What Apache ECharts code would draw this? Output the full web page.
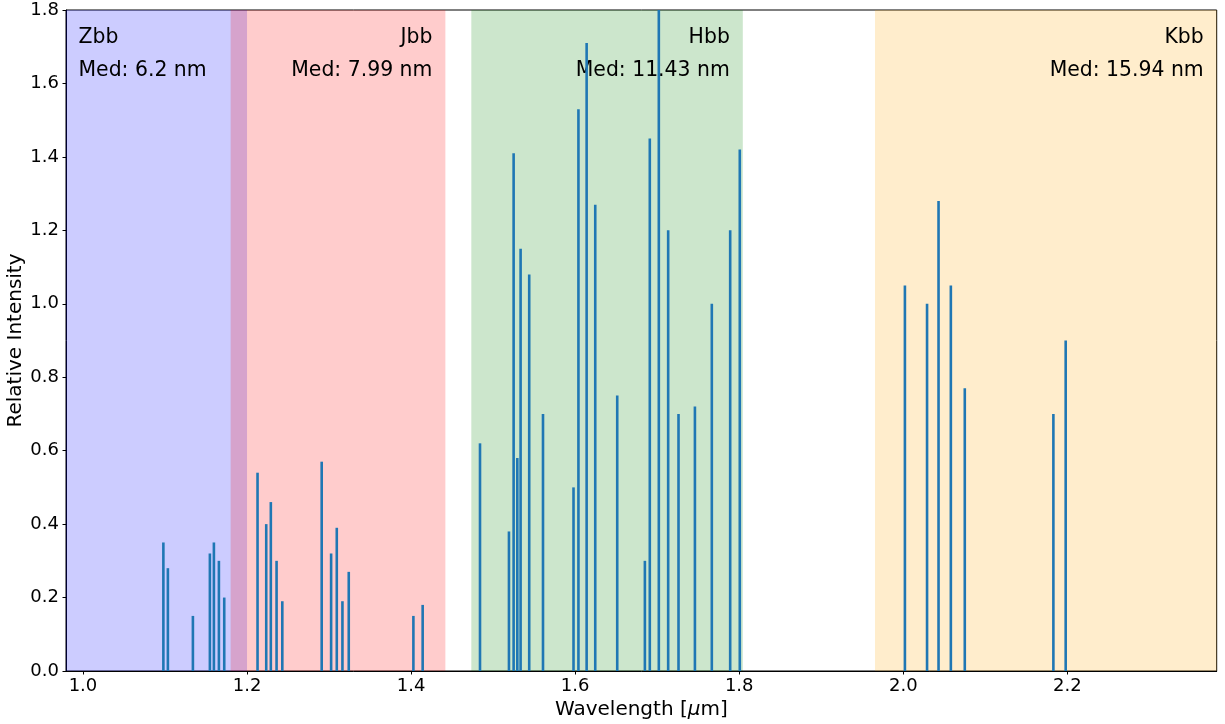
<!DOCTYPE html>
<html>
<head>
<meta charset="utf-8">
<script src="https://cdn.jsdelivr.net/npm/echarts@6/dist/echarts.min.js"></script>
<style>html,body{margin:0;padding:0;background:#fff}#c{width:1225px;height:724px}</style>
</head>
<body>
<div id="c"></div>
<script>
// Emission line wavelengths (micron) and relative intensities
const wavelengths = [1.098, 1.1035, 1.134, 1.1547, 1.1596, 1.1657, 1.1722,
  1.2128, 1.2234, 1.229, 1.236, 1.243, 1.291, 1.3025, 1.3094, 1.3163, 1.324, 1.4028, 1.4141,
  1.484, 1.5193, 1.525, 1.5295, 1.5335, 1.544, 1.5608, 1.598, 1.604, 1.614, 1.6245, 1.6513,
  1.685, 1.691, 1.702, 1.7134, 1.726, 1.746, 1.7666, 1.789, 1.8007,
  2.002, 2.029, 2.043, 2.058, 2.075, 2.183, 2.198];
const intensities = [0.35, 0.28, 0.15, 0.32, 0.35, 0.30, 0.20,
  0.54, 0.40, 0.46, 0.30, 0.19, 0.57, 0.32, 0.39, 0.19, 0.27, 0.15, 0.18,
  0.62, 0.38, 1.41, 0.58, 1.15, 1.08, 0.70, 0.50, 1.53, 1.71, 1.27, 0.75,
  0.30, 1.45, 1.80, 1.20, 0.70, 0.72, 1.00, 1.20, 1.42,
  1.05, 1.00, 1.28, 1.05, 0.77, 0.70, 0.90];

// Filter bands
const bandNames = ['Zbb', 'Jbb', 'Hbb', 'Kbb'];
const bandStart = [0.9793, 1.180, 1.4734, 1.9655];
const bandEnd = [1.200, 1.4418, 1.8044, 2.3821];
const bandMedian = ['6.2', '7.99', '11.43', '15.94'];
const bandColors = ['rgba(0,0,255,0.2)', 'rgba(255,0,0,0.2)', 'rgba(0,128,0,0.2)', 'rgba(255,165,0,0.2)'];
const bandAlign = ['left', 'right', 'right', 'right'];

const xTicks = [1.0, 1.2, 1.4, 1.6, 1.8, 2.0, 2.2];

const FONT = 'DejaVu Sans';
const lineData = wavelengths.map((w, i) => [w, intensities[i]]);
const bandData = bandNames.map((n, i) => [bandStart[i], bandEnd[i], i]);

const chart = echarts.init(document.getElementById('c'), null, { renderer: 'canvas' });
chart.setOption({
  animation: false,
  backgroundColor: '#fff',
  grid: { left: 66, right: 8.3, top: 10, bottom: 53, containLabel: false, outerBoundsMode: 'none', show: true, borderColor: '#000', borderWidth: 1, backgroundColor: 'transparent' },
  xAxis: {
    type: 'value', min: 0.9793, max: 2.3821,
    name: 'Wavelength [{i|μ}m]', nameLocation: 'middle', nameGap: 29, nameMoveOverlap: false,
    nameTextStyle: { fontFamily: FONT, fontSize: 20, color: '#000', rich: { i: { fontFamily: FONT, fontSize: 20, fontStyle: 'italic', color: '#000' } } },
    axisLine: { show: true, onZero: false, lineStyle: { color: '#000', width: 1 } },
    axisTick: { show: true, inside: false, length: 3.5, customValues: xTicks, lineStyle: { color: '#000' } },
    axisLabel: { customValues: xTicks, fontFamily: FONT, fontSize: 18, color: '#000', margin: 6, formatter: v => v.toFixed(1) },
    splitLine: { show: false }
  },
  yAxis: {
    type: 'value', min: 0, max: 1.8, interval: 0.2,
    name: 'Relative Intensity', nameLocation: 'middle', nameGap: 40, nameMoveOverlap: false,
    nameTextStyle: { fontFamily: FONT, fontSize: 20, color: '#000' },
    axisLine: { show: true, lineStyle: { color: '#000', width: 1 } },
    axisTick: { show: true, length: 3.5, lineStyle: { color: '#000' } },
    axisLabel: { fontFamily: FONT, fontSize: 18, color: '#000', margin: 7, formatter: v => v.toFixed(1) },
    splitLine: { show: false }
  },
  series: [
    {
      type: 'custom', z: 1, silent: true, clip: true,
      data: bandData,
      renderItem: (params, api) => {
        const i = api.value(2);
        const pA = api.coord([api.value(0), 1.8]);
        const pB = api.coord([api.value(1), 0]);
        const left = bandAlign[i] === 'left';
        const tx = left ? pA[0] + 12.5 : pB[0] - 13;
        const top = pA[1];
        const ts = { fill: '#000', fontFamily: FONT, fontSize: 20.4, align: bandAlign[i], verticalAlign: 'middle' };
        return {
          type: 'group',
          children: [
            { type: 'rect', shape: { x: pA[0], y: pA[1], width: pB[0] - pA[0], height: pB[1] - pA[1] }, style: { fill: bandColors[i] } },
            { type: 'text', x: tx, y: top + 27.5, style: Object.assign({ text: bandNames[i] }, ts) },
            { type: 'text', x: tx, y: top + 60.5, style: Object.assign({ text: 'Med: ' + bandMedian[i] + ' nm' }, ts) }
          ]
        };
      }
    },
    {
      type: 'custom', z: 3, clip: true,
      data: lineData,
      renderItem: (params, api) => {
        const p0 = api.coord([api.value(0), 0]);
        const p1 = api.coord([api.value(0), api.value(1)]);
        return { type: 'line', shape: { x1: p0[0], y1: p0[1], x2: p1[0], y2: p1[1] }, style: { stroke: '#1f77b4', lineWidth: 2.6 } };
      }
    }
  ]
});
</script>
</body>
</html>
